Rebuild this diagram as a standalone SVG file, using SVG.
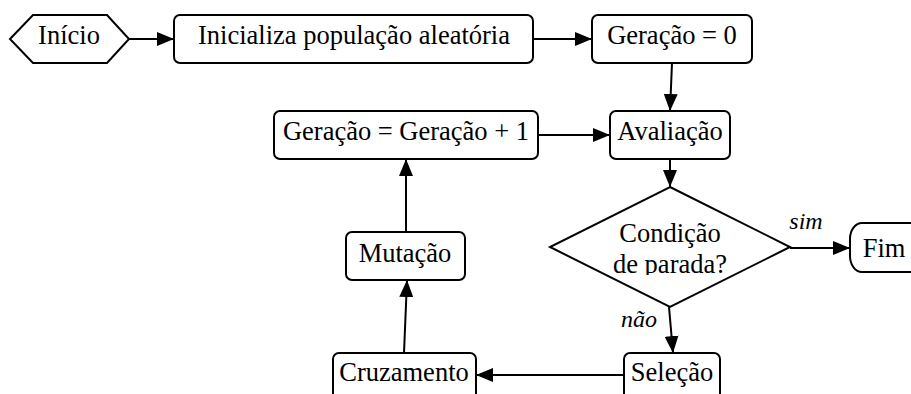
<svg xmlns="http://www.w3.org/2000/svg" width="911" height="394" viewBox="0 0 911 394">
<style>
.n{fill:#fff;stroke:#000;stroke-width:2}
text{font-family:'Liberation Serif','Times New Roman','DejaVu Serif',serif;fill:#000;text-anchor:middle}
.t{font-size:26.5px}
.l{font-size:24px;font-style:italic}
.c{fill:none;stroke:#000;stroke-width:2}
</style>
<defs>
<marker id="ah" markerUnits="userSpaceOnUse" markerWidth="17" markerHeight="14" refX="17" refY="7" orient="auto">
<path d="M0,0 L17,7 L0,14 z" fill="#000"/>
</marker>
<clipPath id="dclip"><rect x="550" y="187" width="240" height="88"/></clipPath>
</defs>
<rect width="911" height="394" fill="#fff"/>
<g id="connectors">
<line class="c" x1="129" y1="39" x2="174" y2="39" marker-end="url(#ah)"/>
<line class="c" x1="533" y1="39" x2="592" y2="39" marker-end="url(#ah)"/>
<line class="c" x1="672" y1="63" x2="670" y2="111" marker-end="url(#ah)"/>
<line class="c" x1="538" y1="135" x2="610" y2="135" marker-end="url(#ah)"/>
<line class="c" x1="670" y1="159" x2="670" y2="187" marker-end="url(#ah)"/>
<line class="c" x1="790" y1="248" x2="850" y2="248" marker-end="url(#ah)"/>
<line class="c" x1="669" y1="307" x2="673" y2="353" marker-end="url(#ah)"/>
<line class="c" x1="624" y1="375" x2="476" y2="375" marker-end="url(#ah)"/>
<line class="c" x1="404" y1="353" x2="407" y2="280" marker-end="url(#ah)"/>
<line class="c" x1="406" y1="232" x2="406" y2="159" marker-end="url(#ah)"/>
<text class="l" x="806" y="229" font-family="Liberation Serif">sim</text>
<text class="l" x="639" y="327" font-family="Liberation Serif">não</text>
</g>
<g id="inicio">
<polygon class="n" points="10,39 33,15 107,15 129,39 107,63 33,63"/>
<text class="t" x="69" y="44">Início</text>
</g>
<g id="inicializa">
<rect class="n" x="174" y="15" width="359" height="48" rx="6"/>
<text class="t" x="354" y="44">Inicializa população aleatória</text>
</g>
<g id="geracao0">
<rect class="n" x="592" y="15" width="160" height="48" rx="6"/>
<text class="t" x="672" y="44">Geração = 0</text>
</g>
<g id="avaliacao">
<rect class="n" x="610" y="111" width="120" height="48" rx="6"/>
<text class="t" x="670" y="140">Avaliação</text>
</g>
<g id="incremento">
<rect class="n" x="274" y="111" width="264" height="48" rx="6"/>
<text class="t" x="406" y="140">Geração = Geração + 1</text>
</g>
<g id="condicao">
<polygon class="n" points="670,187 790,247 670,307 550,247"/>
<g clip-path="url(#dclip)">
<text class="t" x="670" y="242">Condição</text>
<text class="t" x="670" y="273">de parada?</text>
</g>
</g>
<g id="fim">
<rect class="n" x="850" y="223" width="100" height="49" rx="12" ry="16"/>
<text class="t" x="884" y="257">Fim</text>
</g>
<g id="mutacao">
<rect class="n" x="346" y="232" width="119" height="48" rx="6"/>
<text class="t" x="405" y="262">Mutação</text>
</g>
<g id="selecao">
<rect class="n" x="624" y="353" width="96" height="60" rx="6"/>
<text class="t" x="672" y="381">Seleção</text>
</g>
<g id="cruzamento">
<rect class="n" x="333" y="353" width="143" height="60" rx="6"/>
<text class="t" x="404" y="381">Cruzamento</text>
</g>
</svg>
